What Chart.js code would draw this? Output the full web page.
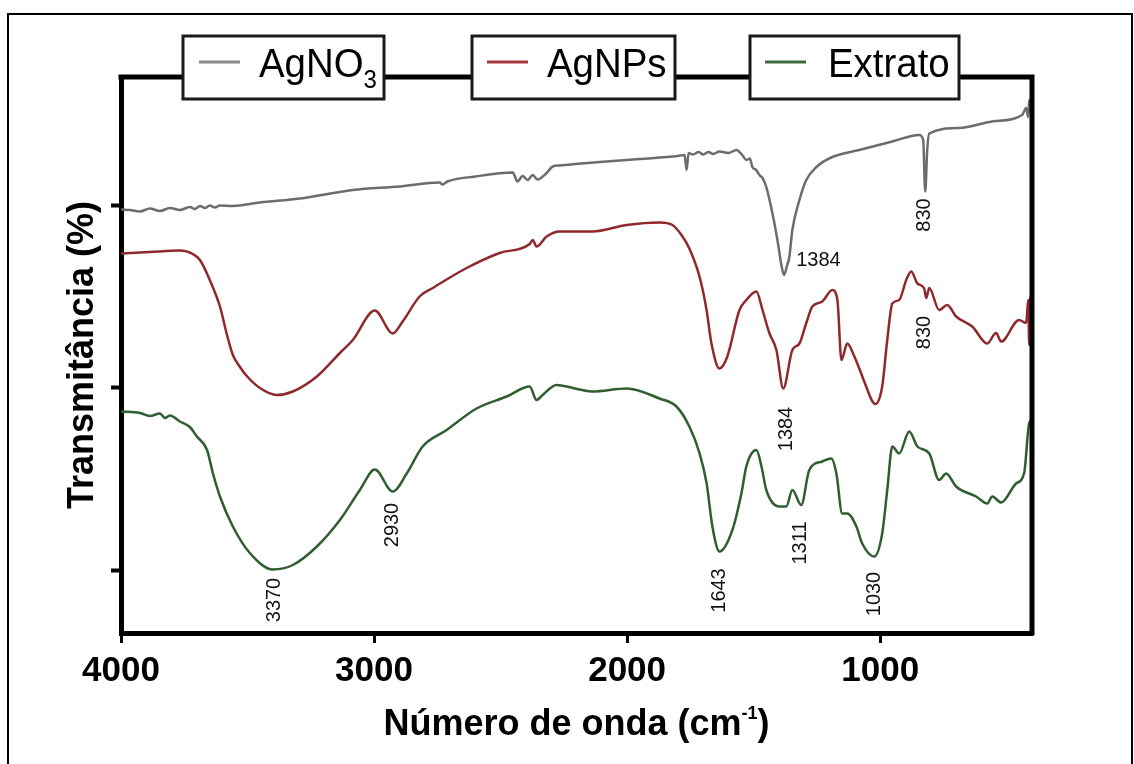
<!DOCTYPE html>
<html><head><meta charset="utf-8">
<style>html,body{margin:0;padding:0;background:#fff;overflow:hidden}canvas{display:block}</style>
<script src="https://cdn.jsdelivr.net/npm/chart.js@4.4.1/dist/chart.umd.min.js"></script>
</head><body>
<canvas id="c" width="1134" height="764"></canvas>
<script>
// ---- data (wavenumber in cm-1, transmittance in arbitrary offset %) ----
const seriesNames = ['AgNO3', 'AgNPs', 'Extrato'];

const agno3Wn = [4000,3964,3925,3886,3846,3807,3767,3728,3708,3688,3668,3649,3629,3609,3558,3451,3293,3084,2899,2741,2729,2710,2600,2452,2433,2413,2393,2373,2354,2318,2294,2267,2109,1951,1800,1773,1765,1757,1740,1717,1700,1678,1660,1635,1600,1568,1545,1529,1515,1505,1490,1477,1465,1450,1426,1406,1390,1380,1368,1359,1347,1319,1292,1252,1189,1083,952,846,830,822,814,806,688,557,439,423,415,411,403,400];
const agno3T  = [84.7,84.6,84.3,84.9,84.4,85.0,84.6,85.2,84.8,85.4,85.0,85.5,85.1,85.5,85.4,86.1,86.9,88.6,89.3,90.1,89.7,90.3,91.3,92.1,90.3,91.4,90.6,91.6,90.7,92.0,93.3,93.5,94.2,94.8,95.4,95.6,92.6,96.0,95.7,96.2,95.7,96.2,95.8,96.3,96.0,96.6,95.6,94.6,94.9,93.2,92.6,91.6,91.0,89.2,84.0,78.6,73.5,71.6,73.5,75.2,80.6,86.6,90.6,93.2,95.2,96.6,98.3,99.6,98.6,88.3,96.6,99.9,101.0,102.3,103.6,105.0,103.2,106.6,104.0,104.6];

const agnpsWn = [4000,3886,3767,3716,3688,3649,3609,3582,3558,3530,3503,3451,3384,3321,3226,3135,3084,2997,2926,2887,2820,2768,2634,2504,2385,2373,2358,2318,2267,2137,2002,1872,1821,1781,1754,1714,1686,1667,1635,1604,1556,1529,1489,1465,1438,1410,1383,1347,1319,1292,1268,1229,1189,1169,1153,1130,1102,1075,1063,1019,992,972,952,925,897,877,853,826,818,806,767,735,700,636,577,542,522,451,423,415,411,407,400];
const agnpsT  = [75.9,76.2,76.5,75.8,74.6,70.6,65.3,59.8,55.6,53.2,51.4,49.0,47.6,48.3,51.3,56.0,58.6,64.5,59.9,62.3,67.3,69.0,73.0,76.0,77.8,78.6,77.3,79.3,80.3,80.3,81.6,82.1,81.6,79.3,76.9,71.3,64.6,58.0,52.9,55.3,64.6,66.6,68.3,64.6,60.0,56.6,48.9,56.6,57.9,62.0,65.3,66.3,68.6,66.6,54.6,57.9,55.3,51.9,50.3,45.8,49.3,58.6,65.9,66.6,70.6,72.3,69.9,68.9,67.0,69.0,64.6,65.6,63.3,61.3,57.9,60.0,58.3,62.6,62.0,66.6,57.6,67.2,61.6];

const extratoWn = [4000,3925,3886,3846,3826,3807,3767,3728,3700,3660,3637,3609,3558,3491,3400,3321,3226,3135,3056,2997,2926,2871,2808,2713,2595,2476,2385,2358,2334,2279,2188,2137,2002,1872,1805,1754,1714,1686,1663,1635,1584,1548,1529,1489,1469,1450,1398,1371,1347,1312,1280,1229,1193,1173,1150,1130,1094,1071,1023,992,972,952,925,885,853,806,767,739,700,621,577,557,522,463,431,411,400];
const extratoT  = [44.3,44.0,43.4,43.9,43.0,43.5,42.3,41.2,39.3,36.6,32.0,27.3,21.3,16.0,12.7,13.6,17.3,22.6,28.6,32.7,28.3,31.9,37.3,40.6,44.9,47.3,49.3,46.6,47.6,49.6,48.7,48.3,48.9,46.9,45.3,41.3,36.0,30.0,21.3,16.3,20.6,28.0,33.3,36.6,33.3,28.6,25.3,25.3,28.6,25.6,32.6,34.3,34.9,31.9,23.9,23.9,21.3,17.9,15.3,19.9,28.6,37.3,35.9,40.3,37.3,35.9,30.6,31.9,29.3,27.3,25.9,27.3,26.1,29.9,32.0,42.0,42.6];

const xTickValues = [4000, 3000, 2000, 1000];
const yTickValues = [12.6, 49.2, 85.6];

const peakLabels = ['3370','2930','1643','1311','1030','1384','830','830','1384'];
const peakWn     = [3392, 2928, 1633, 1313, 1021, 1369, 826, 826, 1244];
const peakT      = [6.6, 21.6, 8.5, 18.0, 7.8, 40.8, 60.1, 83.6, 74.6];
const peakVertical = [true,true,true,true,true,true,true,true,false];

// ---- styling ----
const FONT = "'Liberation Sans', Arial, Helvetica, sans-serif";
const lineColors   = ['#6c6c6c', '#8e2a2d', '#2f5e30'];
const legendColors = ['#8a8a8a', '#a3383c', '#3e6c3e'];

function pts(w, t) { return w.map((x, i) => ({ x: x, y: t[i] })); }

const framePlugin = {
  id: 'frame',
  afterDraw(chart) {
    const { ctx, chartArea: a } = chart;
    ctx.save();
    ctx.strokeStyle = '#000';
    ctx.lineWidth = 5;
    ctx.lineCap = 'square';
    ctx.beginPath();
    ctx.moveTo(a.left, a.top);
    ctx.lineTo(a.right, a.top);
    ctx.lineTo(a.right, a.bottom);
    ctx.stroke();
    ctx.lineWidth = 2;
    ctx.lineCap = 'butt';
    ctx.beginPath();
    ctx.moveTo(8, 764); ctx.lineTo(8, 14); ctx.lineTo(1132, 14); ctx.lineTo(1132, 764);
    ctx.stroke();
    ctx.restore();
  }
};

const legendLayout = [
  { x: 183, w: 201, lx: 199, tx: 259 },
  { x: 472, w: 203, lx: 487, tx: 547 },
  { x: 750, w: 209, lx: 765, tx: 828 }
];

const legendPlugin = {
  id: 'boxLegend',
  afterDraw(chart) {
    const ctx = chart.ctx;
    ctx.save();
    chart.data.datasets.forEach((ds, i) => {
      const L = legendLayout[i];
      ctx.fillStyle = '#fff';
      ctx.fillRect(L.x, 36, L.w, 63);
      ctx.strokeStyle = '#1a1a1a';
      ctx.lineWidth = 3;
      ctx.strokeRect(L.x, 36, L.w, 63);
      ctx.strokeStyle = legendColors[i];
      ctx.lineWidth = 3;
      ctx.beginPath(); ctx.moveTo(L.lx, 62); ctx.lineTo(L.lx + 41, 62); ctx.stroke();
      ctx.fillStyle = '#000';
      ctx.textBaseline = 'alphabetic';
      ctx.textAlign = 'left';
      const m = ds.label.match(/^(.*\D)(\d+)$/);
      const base = m ? m[1] : ds.label;
      ctx.save();
      ctx.translate(L.tx, 77);
      ctx.scale(0.96, 1);
      ctx.font = '40px ' + FONT;
      ctx.fillText(base, 0, 0);
      if (m) {
        const w = ctx.measureText(base).width;
        ctx.font = '25px ' + FONT;
        ctx.fillText(m[2], w, 11);
      }
      ctx.restore();
    });
    ctx.restore();
  }
};

const annotPlugin = {
  id: 'peaks',
  afterDatasetsDraw(chart) {
    const { ctx, scales } = chart;
    ctx.save();
    ctx.fillStyle = '#111';
    ctx.font = '20px ' + FONT;
    ctx.textAlign = 'center';
    ctx.textBaseline = 'middle';
    peakLabels.forEach((txt, i) => {
      const px = scales.x.getPixelForValue(peakWn[i]);
      const py = scales.y.getPixelForValue(peakT[i]);
      ctx.save();
      ctx.translate(px, py);
      if (peakVertical[i]) ctx.rotate(-Math.PI / 2);
      ctx.fillText(txt, 0, 0);
      ctx.restore();
    });
    ctx.restore();
  }
};

const xTitlePlugin = {
  id: 'xTitle',
  afterDraw(chart) {
    const { ctx, chartArea: a } = chart;
    const main = 'Número de onda (cm', sup = '-1', close = ')';
    ctx.save();
    ctx.fillStyle = '#000';
    ctx.textBaseline = 'alphabetic';
    ctx.textAlign = 'left';
    ctx.font = 'bold 36px ' + FONT;
    const w1 = ctx.measureText(main).width, w3 = ctx.measureText(close).width;
    ctx.font = 'bold 18px ' + FONT;
    const w2 = ctx.measureText(sup).width;
    let x = (a.left + a.right) / 2 - (w1 + w2 + w3) / 2;
    const y = 735;
    ctx.font = 'bold 36px ' + FONT;
    ctx.fillText(main, x, y);
    ctx.font = 'bold 18px ' + FONT;
    ctx.fillText(sup, x + w1, y - 16);
    ctx.font = 'bold 36px ' + FONT;
    ctx.fillText(close, x + w1 + w2, y);
    ctx.restore();
  }
};

new Chart(document.getElementById('c').getContext('2d'), {
  type: 'line',
  data: {
    datasets: [
      { label: seriesNames[0], data: pts(agno3Wn, agno3T) },
      { label: seriesNames[1], data: pts(agnpsWn, agnpsT) },
      { label: seriesNames[2], data: pts(extratoWn, extratoT) }
    ].map((d, i) => Object.assign(d, {
      borderColor: lineColors[i], borderWidth: 2.5, pointRadius: 0,
      fill: false, cubicInterpolationMode: 'monotone'
    }))
  },
  options: {
    responsive: false,
    animation: false,
    devicePixelRatio: 1,
    layout: { padding: { top: 77, right: 102, left: 0, bottom: 0 } },
    plugins: { legend: { display: false }, tooltip: { enabled: false } },
    scales: {
      x: {
        type: 'linear', reverse: true, min: 400, max: 4000,
        afterBuildTicks: s => { s.ticks = xTickValues.map(v => ({ value: v })); },
        afterFit: s => { s.height = 131; },
        border: { display: true, color: '#000', width: 5 },
        grid: { drawOnChartArea: false, drawTicks: true, tickLength: 10, tickWidth: 3, tickColor: '#000' },
        ticks: { color: '#000', font: { family: FONT, size: 35, weight: 'bold' }, padding: 7, maxRotation: 0, autoSkip: false,
                 callback: v => String(v) }
      },
      y: {
        type: 'linear', min: 0, max: 111.2,
        afterBuildTicks: s => { s.ticks = yTickValues.map(v => ({ value: v })); },
        afterFit: s => { s.width = 121; },
        border: { display: true, color: '#000', width: 5 },
        grid: { drawOnChartArea: false, drawTicks: true, tickLength: 10, tickWidth: 4, tickColor: '#000' },
        ticks: { display: false },
        title: { display: true, text: 'Transmitância (%)', color: '#000', font: { family: FONT, size: 36, weight: 'bold' }, padding: { top: 61, bottom: 0 } }
      }
    }
  },
  plugins: [annotPlugin, framePlugin, legendPlugin, xTitlePlugin]
});
</script>
</body></html>
